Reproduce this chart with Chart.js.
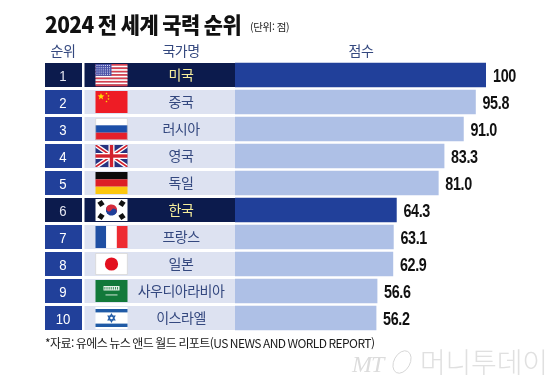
<!DOCTYPE html>
<html lang="ko">
<head>
<meta charset="utf-8">
<title>2024 전 세계 국력 순위</title>
<script src="https://cdn.jsdelivr.net/npm/chart.js@4"></script>
<style>
  html, body { margin: 0; padding: 0; background: #fff; }
  canvas { display: block; }
</style>
</head>
<body>
<canvas id="rankChart" width="560" height="384"></canvas>
<script>
const ranks = ['1', '2', '3', '4', '5', '6', '7', '8', '9', '10']
const countries = ['미국', '중국', '러시아', '영국', '독일', '한국', '프랑스', '일본', '사우디아라비아', '이스라엘']
const scores = [100, 95.8, 91.0, 83.3, 81.0, 64.3, 63.1, 62.9, 56.6, 56.2]
const scoreLabels = ['100', '95.8', '91.0', '83.3', '81.0', '64.3', '63.1', '62.9', '56.6', '56.2']
const flags = ['us', 'cn', 'ru', 'gb', 'de', 'kr', 'fr', 'jp', 'sa', 'il']
const highlighted = ['미국', '한국']

const NAVY = '#0c1b4d'
const BLUE = '#21409a'
const BAND = '#dde2f1'
const LIGHT_BAR = '#aec0e6'
const INK = '#34487f'
const KR_FONT = '"Noto Sans CJK KR"'
const NUM_FONT = '"Liberation Sans"'

function text(ctx, str, x, y, font, color, align, spacing, squeeze) {
  ctx.save()
  ctx.translate(x, y)
  ctx.scale(squeeze || 1, 1)
  ctx.font = font
  ctx.fillStyle = color
  ctx.textAlign = align || 'left'
  ctx.textBaseline = 'alphabetic'
  ctx.letterSpacing = spacing || '0px'
  ctx.fillText(str, 0, 0)
  ctx.restore()
}

function star(ctx, cx, cy, r, color) {
  ctx.fillStyle = color
  ctx.beginPath()
  for (let i = 0; i < 10; i++) {
    const rad = i % 2 ? r * 0.42 : r
    const a = -Math.PI / 2 + i * Math.PI / 5
    ctx.lineTo(cx + rad * Math.cos(a), cy + rad * Math.sin(a))
  }
  ctx.closePath()
  ctx.fill()
}

function diagonal(ctx, x1, y1, x2, y2, width, color) {
  ctx.strokeStyle = color
  ctx.lineWidth = width
  ctx.beginPath()
  ctx.moveTo(x1, y1)
  ctx.lineTo(x2, y2)
  ctx.stroke()
}

// 국기는 행 위치(y 스케일)에 맞춰 그림
const flagPainters = {
  us(ctx, x, y, w, h) {
    for (let i = 0; i < 13; i++) {
      ctx.fillStyle = i % 2 ? '#ffffff' : '#d8404f'
      ctx.fillRect(x, y + i * h / 13, w, h / 13 + 0.3)
    }
    ctx.fillStyle = '#4a52a8'
    ctx.fillRect(x, y, w * 0.5, h * 0.54)
    ctx.fillStyle = '#dfe2f5'
    for (let r = 0; r < 5; r++) {
      for (let c = 0; c < 7; c++) {
        ctx.fillRect(x + 1 + c * 2.1, y + 1 + r * 2.2, 1, 1)
      }
    }
  },
  cn(ctx, x, y, w, h) {
    ctx.fillStyle = '#ee1c25'
    ctx.fillRect(x, y, w, h)
    star(ctx, x + 5.5, y + 5.5, 3.6, '#ffde00')
    star(ctx, x + 11, y + 2.5, 1.2, '#ffde00')
    star(ctx, x + 13, y + 5, 1.2, '#ffde00')
    star(ctx, x + 13, y + 8, 1.2, '#ffde00')
    star(ctx, x + 11, y + 10.5, 1.2, '#ffde00')
  },
  ru(ctx, x, y, w, h) {
    ctx.fillStyle = '#ffffff'
    ctx.fillRect(x, y, w, h / 3)
    ctx.fillStyle = '#1c4fa8'
    ctx.fillRect(x, y + h / 3, w, h / 3)
    ctx.fillStyle = '#e5202a'
    ctx.fillRect(x, y + 2 * h / 3, w, h / 3)
    ctx.strokeStyle = '#c9c9c9'
    ctx.lineWidth = 0.6
    ctx.strokeRect(x + 0.3, y + 0.3, w - 0.6, h - 0.6)
  },
  gb(ctx, x, y, w, h) {
    ctx.fillStyle = '#27337f'
    ctx.fillRect(x, y, w, h)
    ctx.save()
    ctx.beginPath()
    ctx.rect(x, y, w, h)
    ctx.clip()
    diagonal(ctx, x, y, x + w, y + h, 4.4, '#ffffff')
    diagonal(ctx, x + w, y, x, y + h, 4.4, '#ffffff')
    diagonal(ctx, x, y, x + w, y + h, 1.6, '#d3212d')
    diagonal(ctx, x + w, y, x, y + h, 1.6, '#d3212d')
    ctx.restore()
    ctx.fillStyle = '#ffffff'
    ctx.fillRect(x + w / 2 - 3, y, 6, h)
    ctx.fillRect(x, y + h / 2 - 3, w, 6)
    ctx.fillStyle = '#d3212d'
    ctx.fillRect(x + w / 2 - 1.7, y, 3.4, h)
    ctx.fillRect(x, y + h / 2 - 1.7, w, 3.4)
  },
  de(ctx, x, y, w, h) {
    ctx.fillStyle = '#0b0b0b'
    ctx.fillRect(x, y, w, h / 3)
    ctx.fillStyle = '#dd1f26'
    ctx.fillRect(x, y + h / 3, w, h / 3)
    ctx.fillStyle = '#fbc70f'
    ctx.fillRect(x, y + 2 * h / 3, w, h / 3)
  },
  kr(ctx, x, y, w, h) {
    const cx = x + w / 2
    const cy = y + h / 2
    ctx.fillStyle = '#ffffff'
    ctx.fillRect(x, y, w, h)
    ctx.save()
    ctx.translate(cx, cy)
    ctx.rotate(0.55)
    ctx.fillStyle = '#d52b3c'
    ctx.beginPath()
    ctx.arc(0, 0, 5.6, Math.PI, 0)
    ctx.fill()
    ctx.fillStyle = '#20409a'
    ctx.beginPath()
    ctx.arc(0, 0, 5.6, 0, Math.PI)
    ctx.fill()
    ctx.fillStyle = '#d52b3c'
    ctx.beginPath()
    ctx.arc(-2.8, 0, 2.8, 0, Math.PI * 2)
    ctx.fill()
    ctx.fillStyle = '#20409a'
    ctx.beginPath()
    ctx.arc(2.8, 0, 2.8, 0, Math.PI * 2)
    ctx.fill()
    ctx.restore()
    ;[[-10.5, -6.5], [10.5, -6.5], [-10.5, 6.5], [10.5, 6.5]].forEach(([dx, dy]) => {
      ctx.save()
      ctx.translate(cx + dx, cy + dy)
      ctx.rotate(dx * dy > 0 ? 0.98 : -0.98)
      ctx.fillStyle = '#111111'
      ctx.fillRect(-2.6, -2.6, 5.2, 5.2)
      ctx.restore()
    })
  },
  fr(ctx, x, y, w, h) {
    ctx.fillStyle = '#1f4fa3'
    ctx.fillRect(x, y, w / 3, h)
    ctx.fillStyle = '#ffffff'
    ctx.fillRect(x + w / 3, y, w / 3, h)
    ctx.fillStyle = '#ee2b32'
    ctx.fillRect(x + 2 * w / 3, y, w / 3, h)
  },
  jp(ctx, x, y, w, h) {
    ctx.fillStyle = '#ffffff'
    ctx.fillRect(x, y, w, h)
    ctx.strokeStyle = '#c9c9c9'
    ctx.lineWidth = 0.6
    ctx.strokeRect(x + 0.3, y + 0.3, w - 0.6, h - 0.6)
    ctx.fillStyle = '#e3101f'
    ctx.beginPath()
    ctx.arc(x + w / 2, y + h / 2, 6.6, 0, Math.PI * 2)
    ctx.fill()
  },
  sa(ctx, x, y, w, h) {
    ctx.fillStyle = '#12793a'
    ctx.fillRect(x, y, w, h)
    ctx.fillStyle = '#e4efe6'
    ctx.fillRect(x + 8, y + 6, 16, 4.5)
    ctx.fillStyle = '#12793a'
    for (let i = 0; i < 7; i++) ctx.fillRect(x + 9 + i * 2.1, y + 7, 0.8, 2.5)
    ctx.fillStyle = '#e4efe6'
    ctx.fillRect(x + 10, y + 14.5, 12, 0.9)
  },
  il(ctx, x, y, w, h) {
    ctx.fillStyle = '#ffffff'
    ctx.fillRect(x, y, w, h)
    ctx.fillStyle = '#1f5aa6'
    ctx.fillRect(x, y + 2, w, 3.4)
    ctx.fillRect(x, y + h - 5.4, w, 3.4)
    const cx = x + w / 2
    const cy = y + h / 2
    ;[-1, 1].forEach(dir => {
      ctx.beginPath()
      ctx.moveTo(cx, cy - dir * 3.8)
      ctx.lineTo(cx + 3.3, cy + dir * 1.9)
      ctx.lineTo(cx - 3.3, cy + dir * 1.9)
      ctx.closePath()
      ctx.strokeStyle = '#1f5aa6'
      ctx.lineWidth = 1.2
      ctx.stroke()
    })
  }
}

// 순위 칸, 국가명 칸, 국기
const rowBands = {
  id: 'rowBands',
  beforeDatasetsDraw(chart) {
    const ctx = chart.ctx
    const yScale = chart.scales.y
    ctx.save()
    countries.forEach((name, i) => {
      const y = yScale.getPixelForValue(i)
      const on = highlighted.includes(name)
      ctx.fillStyle = on ? NAVY : BLUE
      ctx.fillRect(45, y - 12, 37, 24)
      ctx.fillStyle = on ? NAVY : BAND
      ctx.fillRect(84.5, y - 12, chart.chartArea.left - 84.5, 24)
      flagPainters[flags[i]](ctx, 95.5, y - 11, 32, 22)
    })
    ctx.restore()
  }
}

// 글자는 모두 실제 텍스트로
const chartText = {
  id: 'chartText',
  afterDatasetsDraw(chart) {
    const ctx = chart.ctx
    const yScale = chart.scales.y
    const bars = chart.getDatasetMeta(0).data
    ctx.save()
    text(ctx, '2024 전 세계 국력 순위', 45, 33, `900 22px ${KR_FONT}`, '#111111', 'left', '-0.6px', 0.95)
    text(ctx, '(단위: 점)', 250, 31, `10.5px ${KR_FONT}`, '#222222', 'left', '-0.3px')
    text(ctx, '순위', 63, 56, `14px ${KR_FONT}`, INK, 'center', '-0.5px')
    text(ctx, '국가명', 181, 56, `14px ${KR_FONT}`, INK, 'center', '-0.5px')
    text(ctx, '점수', 361, 56, `14px ${KR_FONT}`, INK, 'center', '-0.5px')

    countries.forEach((name, i) => {
      const y = yScale.getPixelForValue(i)
      const on = highlighted.includes(name)
      text(ctx, ranks[i], 63, y + 5.5, `15.5px ${NUM_FONT}`, on ? '#e6e8f2' : '#ffffff', 'center', '0px', 0.85)
      text(ctx, name, 181, y + 5, `14px ${KR_FONT}`, on ? '#f6ee9c' : INK, 'center', '-0.5px')
      text(ctx, scoreLabels[i], bars[i].x + 7, y + 6.5, `bold 17.5px ${NUM_FONT}`, '#111111', 'left', '-0.4px', 0.82)
    })

    text(ctx, '*자료: 유에스 뉴스 앤드 월드 리포트(US NEWS AND WORLD REPORT)', 45, 348, `12px ${KR_FONT}`, '#1a1a1a', 'left', '-0.58px')

    text(ctx, 'MT', 352, 372, 'italic 24px "Liberation Serif"', '#dcdcdc', 'left', '-1px')
    ctx.strokeStyle = '#d6d6d6'
    ctx.lineWidth = 1
    ctx.beginPath()
    ctx.ellipse(402, 362, 8, 12, 0.5, 0, Math.PI * 2)
    ctx.stroke()
    text(ctx, '머니투데이', 420, 373, `300 28px ${KR_FONT}`, '#e0e0e0', 'left', '-0.2px')
    ctx.restore()
  }
}

new Chart(document.getElementById('rankChart'), {
  type: 'bar',
  data: {
    labels: countries,
    datasets: [{
      data: scores,
      backgroundColor: countries.map(name => highlighted.includes(name) ? BLUE : LIGHT_BAR),
      barThickness: 24,
      borderWidth: 0
    }]
  },
  options: {
    indexAxis: 'y',
    responsive: false,
    animation: false,
    layout: { padding: { left: 235, right: 74, top: 61.5, bottom: 52.5 } },
    plugins: { legend: { display: false }, tooltip: { enabled: false } },
    scales: {
      x: { min: 0, max: 100, display: false },
      y: { display: false }
    }
  },
  plugins: [rowBands, chartText]
})
</script>
</body>
</html>
